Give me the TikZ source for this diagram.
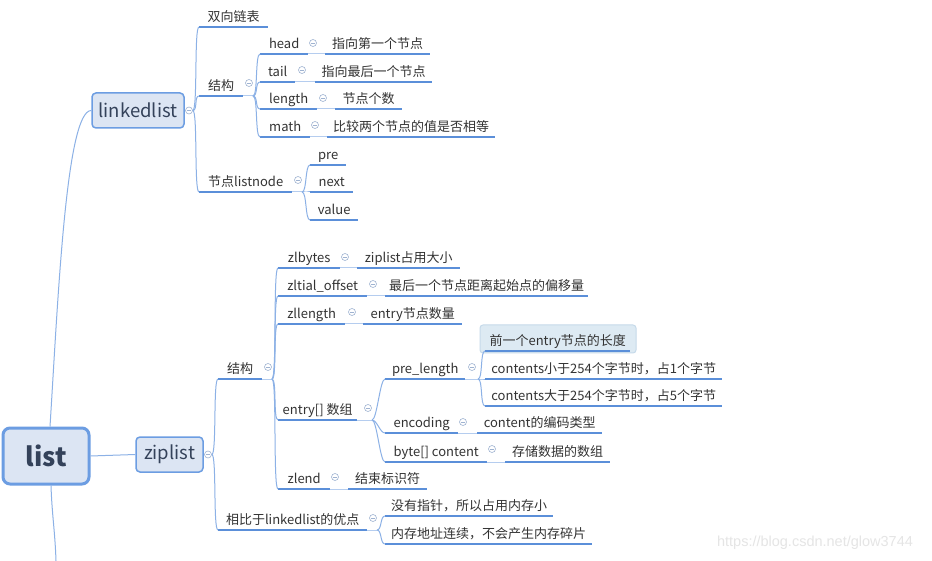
\documentclass[tikz,border=0pt]{standalone}
\usepackage{fontspec}
\setmainfont{Noto Sans CJK SC}
\newfontfamily\wmfont{Liberation Sans}
\definecolor{ulc}{HTML}{5B8FD9}
\definecolor{brc}{HTML}{8CB1E6}
\definecolor{kvc}{HTML}{B5CDEF}
\definecolor{boxf}{HTML}{DCE5F3}
\definecolor{boxc}{HTML}{6C9DE2}
\definecolor{boxt}{HTML}{34425A}
\definecolor{txt}{HTML}{333333}
\definecolor{foldc}{HTML}{9FB3D1}
\definecolor{pbf}{HTML}{DDEAF3}
\definecolor{pbc}{HTML}{C6DAEA}
\newcommand\brto[2]{\draw[br] (#1) .. controls +(5,0) and +(-5,0) .. (#2.south west);}
\newcommand\kvto[2]{\draw[kvl] (#1.south east) -- (#2.south west);}
\begin{document}
\begin{tikzpicture}[x=1pt,y=-1pt,
  topic/.style={anchor=south west, inner sep=0pt, minimum height=18pt, text=txt,
    font=\fontsize{13}{14}\selectfont, text height=9.5pt, text depth=3pt},
  mbox/.style={draw=boxc, fill=boxf, rounded corners=4pt, line width=1.5pt, inner sep=0pt,
    text=boxt, font=\fontsize{18.5}{20}\selectfont},
  fold/.style={circle, draw=foldc, line width=0.6pt, minimum size=7pt, inner sep=0pt,
    path picture={\draw[foldc, line width=0.6pt] ([xshift=-2pt]path picture bounding box.center) -- ([xshift=2pt]path picture bounding box.center);}},
  ul/.style={draw=ulc, line width=2.4pt},
  br/.style={draw=brc, line width=1pt},
  kvl/.style={draw=kvc, line width=1pt}]
\useasboundingbox (0,0) rectangle (932,561);
\fill[white] (0,0) rectangle (932,561);

% main boxes
\node[mbox, line width=3pt, rounded corners=7pt, minimum width=86pt, minimum height=56pt,
  font=\bfseries\fontsize{26}{28}\selectfont] (root) at (46,456) {list};
\node[mbox, minimum width=92pt, minimum height=35pt] (ll) at (138,110.5) {linkedlist};
\node[mbox, minimum width=67pt, minimum height=35pt] (zl) at (169.5,454.5) {ziplist};
\node[fold] (llf) at (189,110.5) {};
\node[fold] (zlf) at (208,454.5) {};

% linkedlist branch
\node[topic, minimum width=69pt] (sxlb) at (199,27) {双向链表};
\node[topic, minimum width=44pt] (ljg) at (199,96) {结构};
\node[fold] (ljgf) at (249,83) {};
\coordinate (ljgs) at (253,96);
\node[topic, minimum width=93pt] (lnode) at (199,192) {节点listnode};
\node[fold] (lnodef) at (298,180) {};
\coordinate (lnodes) at (302,192);

\node[topic, minimum width=48pt] (khead) at (260,54) {head};
\node[fold] at (313,43) {};
\node[topic, minimum width=105pt] (vhead) at (325,54) {指向第一个节点};
\node[topic, minimum width=35pt] (ktail) at (260,82) {tail};
\node[fold] at (302,70) {};
\node[topic, minimum width=117pt] (vtail) at (315,82) {指向最后一个节点};
\node[topic, minimum width=57pt] (klen) at (260,109) {length};
\node[fold] at (323,98) {};
\node[topic, minimum width=67pt] (vlen) at (335,109) {节点个数};
\node[topic, minimum width=50pt] (kmath) at (260,137) {math};
\node[fold] at (315,125) {};
\node[topic, minimum width=168pt] (vmath) at (327,137) {比较两个节点的值是否相等};

\node[topic, minimum width=36pt] (npre) at (310,165) {pre};
\node[topic, minimum width=43pt] (nnext) at (310,192) {next};
\node[topic, minimum width=48pt] (nvalue) at (310,220) {value};

% ziplist branch
\node[topic, minimum width=44pt] (zjg) at (218,379) {结构};
\node[fold] at (268,367) {};
\coordinate (zjgs) at (272,379);
\node[topic, minimum width=149pt] (zadv) at (218,530) {相比于linkedlist的优点};
\node[fold] at (373,518) {};
\coordinate (zadvs) at (377,530);

\node[topic, minimum width=62pt] (kzlb) at (278,268) {zlbytes};
\node[fold] at (345,257) {};
\node[topic, minimum width=103pt] (vzlb) at (357,268) {ziplist占用大小};
\node[topic, minimum width=89pt] (kzlt) at (278,296) {zltial\_offset};
\node[fold] at (373,284) {};
\node[topic, minimum width=203pt] (vzlt) at (385,296) {最后一个节点距离起始点的偏移量};
\node[topic, minimum width=67pt] (kzll) at (278,324) {zllength};
\node[fold] at (352,312) {};
\node[topic, minimum width=99pt] (vzll) at (363,324) {entry节点数量};
\node[topic, minimum width=79pt] (kent) at (278,420) {entry[] 数组};
\node[fold] at (368,408) {};
\coordinate (kents) at (372,420);
\node[topic, minimum width=52pt] (kzle) at (278,489) {zlend};
\node[fold] at (335,477) {};
\node[topic, minimum width=79pt] (vzle) at (348,489) {结束标识符};

\node[topic, minimum width=80pt] (kpre) at (385,379) {pre\_length};
\node[fold] at (472,367) {};
\coordinate (kpres) at (478,379);
\node[topic, minimum width=73pt] (kenc) at (385,433) {encoding};
\node[fold] at (463,422) {};
\node[topic, minimum width=125pt] (venc) at (477,433) {content的编码类型};
\node[topic, minimum width=102pt] (kbyte) at (385,462) {byte[] content};
\node[fold] at (492,449) {};
\node[topic, minimum width=105pt] (vbyte) at (505,462) {存储数据的数组};

\node[draw=pbc, fill=pbf, rounded corners=3pt, line width=1pt, minimum width=156pt,
  minimum height=28pt, inner sep=0pt] (pbox) at (558,339) {};
\node[topic, minimum width=145pt] (ppre) at (485,351) {前一个entry节点的长度};
\node[topic, minimum width=237pt] (plt) at (485,379) {contents小于254个字节时，占1个字节};
\node[topic, minimum width=237pt] (pgt) at (485,406) {contents大于254个字节时，占5个字节};

\node[topic, minimum width=168pt] (adv1) at (385,516) {没有指针，所以占用内存小};
\node[topic, minimum width=207pt] (adv2) at (385,544) {内存地址连续，不会产生内存碎片};

% underlines
\foreach \n in {sxlb,ljg,lnode,khead,vhead,ktail,vtail,klen,vlen,kmath,vmath,npre,nnext,nvalue,
  zjg,zadv,kzlb,vzlb,kzlt,vzlt,kzll,vzll,kent,kzle,vzle,kpre,kenc,venc,kbyte,vbyte,ppre,plt,pgt,adv1,adv2}
  \draw[ul] (\n.south west) -- (\n.south east);

% key-value links
\kvto{khead}{vhead}
\kvto{ktail}{vtail}
\kvto{klen}{vlen}
\kvto{kmath}{vmath}
\kvto{kzlb}{vzlb}
\kvto{kzlt}{vzlt}
\kvto{kzll}{vzll}
\kvto{kzle}{vzle}
\kvto{kenc}{venc}
\kvto{kbyte}{vbyte}
\draw[kvl] (ljg.south east) -- (ljgs);
\draw[kvl] (lnode.south east) -- (lnodes);
\draw[kvl] (zjg.south east) -- (zjgs);
\draw[kvl] (zadv.south east) -- (zadvs);
\draw[kvl] (kent.south east) -- (kents);
\draw[kvl] (kpre.south east) -- (kpres);

% root connectors
\coordinate (rootdown) at (56,561);
\draw[br] ([xshift=4pt]root.north) .. controls (58,300) and (66,110.5) .. (ll.west);
\draw[br] ([xshift=5pt]root.south) .. controls +(1,30) and +(-1,-30) .. (rootdown);
\draw[br] (root.east) -- (zl.west);

% branches
\brto{llf.east}{sxlb}
\brto{llf.east}{ljg}
\brto{llf.east}{lnode}
\brto{ljgs}{khead}
\brto{ljgs}{ktail}
\brto{ljgs}{klen}
\brto{ljgs}{kmath}
\brto{lnodes}{npre}
\brto{lnodes}{nnext}
\brto{lnodes}{nvalue}
\brto{zlf.east}{zjg}
\brto{zlf.east}{zadv}
\brto{zjgs}{kzlb}
\brto{zjgs}{kzlt}
\brto{zjgs}{kzll}
\brto{zjgs}{kent}
\brto{zjgs}{kzle}
\brto{kents}{kpre}
\brto{kents}{kenc}
\brto{kents}{kbyte}
\brto{kpres}{ppre}
\brto{kpres}{plt}
\brto{kpres}{pgt}
\brto{zadvs}{adv1}
\brto{zadvs}{adv2}

\node[font=\wmfont\fontsize{14.5}{16}\selectfont, text=black!10] (wm) at (815,543) {https://blog.csdn.net/glow3744};
\end{tikzpicture}
\end{document}
